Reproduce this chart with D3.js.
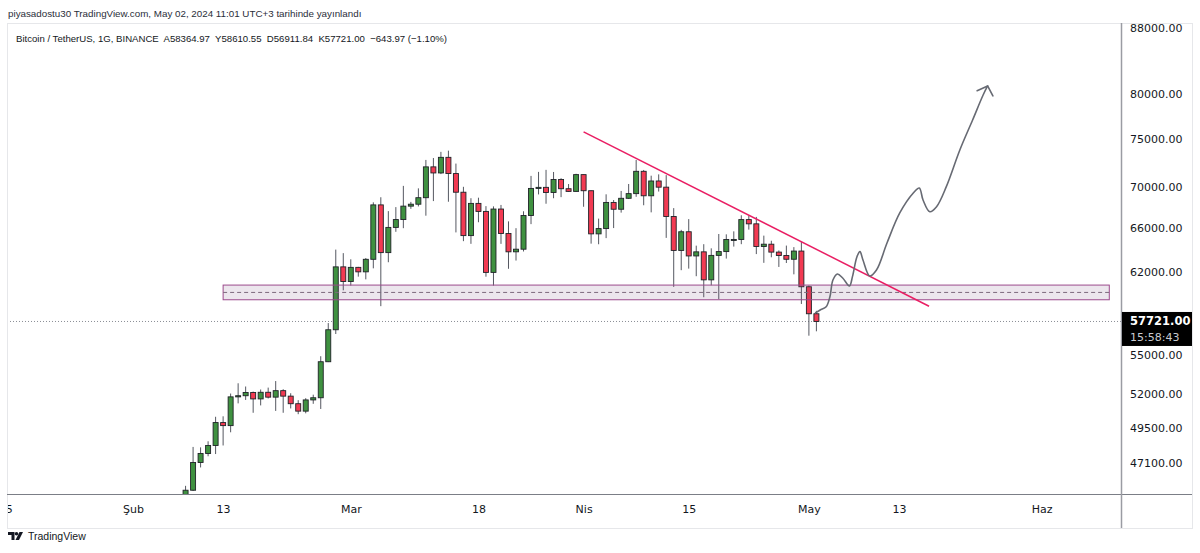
<!DOCTYPE html>
<html>
<head>
<meta charset="utf-8">
<script src="https://cdn.jsdelivr.net/npm/d3@7"></script>
<style>
  body { margin: 0; background: #fff; }
  svg { display: block; }
</style>
</head>
<body>
<div id="chart"></div>
<script>
// daily candles, BTC/USDT, from Feb 8 2024
const firstDay = "2024-02-08";
const opens = [44339.8, 45293.3, 47132.77, 47751.09, 48299.99, 49917.27, 49699.59, 51795.17, 51880.0, 52124.11,
  51642.64, 52137.67, 51774.73, 52258.82, 51849.38, 51288.42, 50744.15, 51568.22, 51728.85, 54476.47,
  57037.34, 62432.1, 61130.98, 62387.9, 61987.28, 63113.97, 68245.71, 63724.01, 66074.04, 66823.17,
  68124.19, 68313.27, 68955.88, 72078.1, 71452.01, 73072.41, 71388.94, 69499.85, 65300.63, 68393.48,
  67609.99, 61937.4, 67840.51, 65501.27, 63796.64, 64037.56, 67211.23, 69880.01, 69988.0, 69469.99,
  70780.6, 69850.54, 69582.18, 71280.01, 69649.8, 65463.99, 65963.28, 68487.79, 67820.62, 68896.0,
  69360.39, 71620.0, 69146.0, 70631.08, 70006.23, 67116.52, 63924.51, 65661.84, 63419.99, 63793.39,
  61277.37, 63470.08, 63818.01, 64940.59, 64941.15, 66819.32, 66414.0, 64289.59, 64498.34, 63770.01,
  63461.98, 63118.62, 63866.0, 60672.0, 58364.97];
const highs = [45579.2, 48200.0, 48170.0, 48592.66, 50334.82, 50368.61, 52043.71, 52816.62, 52572.08, 52191.91,
  52345.0, 52488.77, 52985.0, 52366.8, 52065.78, 51548.54, 51698.0, 51958.55, 54910.0, 57588.15,
  64000.0, 63676.35, 63114.23, 62433.19, 63230.0, 68499.0, 69000.0, 67637.93, 68029.92, 70136.0,
  68541.1, 69887.61, 72800.0, 73000.0, 73650.25, 73777.0, 72419.71, 70043.0, 68904.4, 68956.0,
  68124.19, 68100.0, 68240.47, 66649.62, 65999.95, 67622.76, 71150.0, 71561.01, 71769.54, 71552.06,
  70916.16, 70321.1, 71366.0, 71288.23, 69674.23, 66914.0, 69291.26, 68725.23, 69629.86, 70326.29,
  72797.99, 71758.0, 71172.08, 71305.89, 71227.46, 67931.43, 65840.0, 66867.07, 64365.0, 64499.0,
  64117.09, 65450.0, 65419.0, 65700.0, 67233.96, 67199.24, 67075.37, 65297.94, 64820.01, 63923.41,
  64370.0, 64228.35, 64734.0, 60780.5, 58610.55];
const lows = [44332.1, 45242.12, 46800.0, 47557.16, 47710.01, 48300.95, 49225.01, 51314.0, 51566.0, 50625.0,
  51163.28, 51677.0, 50760.37, 50625.0, 50940.78, 50521.0, 50585.0, 51279.8, 50901.44, 54450.13,
  56690.34, 60364.7, 60777.0, 61561.12, 61321.49, 62300.0, 59005.0, 62848.67, 65655.53, 66000.0,
  67861.1, 68094.75, 67194.88, 68620.82, 71333.31, 68555.0, 65600.0, 64780.0, 64533.0, 66566.64,
  61555.0, 60775.0, 64529.01, 62260.0, 63000.0, 63825.85, 66385.06, 69280.0, 68359.18, 68903.62,
  69009.0, 69540.0, 69562.99, 68062.86, 64550.0, 64493.07, 65064.52, 66011.48, 67491.72, 68824.0,
  69043.24, 68210.0, 67518.0, 69567.21, 65086.86, 60660.57, 62134.0, 62274.4, 61600.0, 59768.86,
  60803.35, 59600.01, 63180.0, 64277.72, 64500.0, 65864.0, 63589.0, 62794.0, 63297.48, 62424.71,
  62781.0, 61765.53, 59191.6, 56552.82, 56911.84];
const closes = [45293.3, 47132.77, 47751.09, 48299.99, 49917.27, 49699.59, 51795.17, 51880.0, 52124.11, 51642.64,
  52137.67, 51774.73, 52258.82, 51849.38, 51288.42, 50744.15, 51568.22, 51728.85, 54476.47, 57037.34,
  62432.1, 61130.98, 62387.9, 61987.28, 63113.97, 68245.71, 63724.01, 66074.04, 66823.17, 68124.19,
  68313.27, 68955.88, 72078.1, 71452.01, 73072.41, 71388.94, 69499.85, 65300.63, 68393.48, 67609.99,
  61937.4, 67840.51, 65501.27, 63796.64, 64037.56, 67211.23, 69880.01, 69988.0, 69469.99, 70780.6,
  69850.54, 69582.18, 71280.01, 69649.8, 65463.99, 65963.28, 68487.79, 67820.62, 68896.0, 69360.39,
  71620.0, 69146.0, 70631.08, 70006.23, 67116.52, 63924.51, 65661.84, 63419.99, 63793.39, 61277.37,
  63470.08, 63818.01, 64940.59, 64941.15, 66819.32, 66414.0, 64289.59, 64498.34, 63770.01, 63461.98,
  63118.62, 63866.0, 60672.0, 58364.97, 57721.0];

const priceTicks = [88000, 80000, 75000, 70000, 66000, 62000, 55000, 52000, 49500, 47100];
const timeTickDates = ["2024-01-15", "2024-02-01", "2024-02-13", "2024-03-01", "2024-03-18",
  "2024-04-01", "2024-04-15", "2024-05-01", "2024-05-13", "2024-06-01"];
const timeTickLabels = ["15", "Şub", "13", "Mar", "18", "Nis", "15", "May", "13", "Haz"];

// drawings
const zoneTop = 60820, zoneBottom = 59550, zoneMid = 60180;
const zoneDates = ["2024-02-13", "2024-06-10"];
const trendDates = ["2024-04-01", "2024-05-17"];
const trendPrices = [75800, 59000];
// hand drawn projection: days after Feb 1, price
const projDays = [90.9, 91.5, 92.3, 92.8, 93.2, 93.8, 94.5, 95.4, 95.8, 96.4, 96.8, 97.2, 98.1, 99.0,
  100.4, 102.1, 103.9, 104.7, 105.2, 106.1, 107.0, 108.3, 110.1, 111.8, 113.2, 113.8];
const projPrices = [58450, 58680, 58960, 59810, 61260, 61800, 61440, 60740, 61560, 63350, 63810, 63050, 61620, 62150,
  64610, 67460, 69420, 69920, 68730, 67580, 68070, 70060, 73850, 77100, 79920, 80960];
const headDays = [112.4, 113.8, 114.5];
const headPrices = [80410, 80960, 79810];

const lastPrice = 57721.0;
const countdown = "15:58:43";
const title1 = "piyasadostu30 TradingView.com, May 02, 2024 11:01 UTC+3 tarihinde yayınlandı";
const title2 = "Bitcoin / TetherUS, 1G, BINANCE  A58364.97  Y58610.55  D56911.84  K57721.00  −643.97 (−1.10%)";

const width = 1200, height = 553;
const frame = { left: 7, top: 23, right: 1192, bottom: 528 };
const paneRight = 1121, paneBottom = 494;

const svg = d3.select("#chart").append("svg")
  .attr("width", width)
  .attr("height", height)
  .style("font-family", "'DejaVu Sans', sans-serif");

const x = d3.scaleUtc()
  .domain([new Date("2024-02-01"), new Date("2024-06-01")])
  .range([133, 1041.7]);
const y = d3.scaleLog()
  .domain([47100, 88000])
  .range([463, 27.96]);

const feb1 = new Date("2024-02-01");
const dayToDate = d => new Date(+feb1 + d * 864e5);

const start = new Date(firstDay);
const candles = opens.map((o, i) => ({
  date: d3.utcDay.offset(start, i), o, h: highs[i], l: lows[i], c: closes[i]
}));

// frame
svg.append("rect")
  .attr("x", frame.left + 0.5).attr("y", frame.top + 0.5)
  .attr("width", frame.right - frame.left).attr("height", frame.bottom - frame.top)
  .attr("fill", "none").attr("stroke", "#e6e7ea");

svg.append("defs").append("clipPath").attr("id", "pane")
  .append("rect")
  .attr("x", frame.left + 1).attr("y", frame.top + 1)
  .attr("width", paneRight - frame.left - 1).attr("height", paneBottom - frame.top - 1);

const pane = svg.append("g").attr("clip-path", "url(#pane)");

// last price dotted line
pane.append("line")
  .attr("x1", frame.left).attr("x2", paneRight)
  .attr("y1", y(lastPrice)).attr("y2", y(lastPrice))
  .attr("stroke", "#8a8d96").attr("stroke-dasharray", "1,2");

// candles
const bw = 5;
const cg = pane.append("g");
cg.selectAll("line.wick").data(candles).join("line")
  .attr("class", "wick")
  .attr("x1", d => x(d.date)).attr("x2", d => x(d.date))
  .attr("y1", d => y(d.h)).attr("y2", d => y(d.l))
  .attr("stroke", "#555861").attr("stroke-width", 1);
cg.selectAll("rect.body").data(candles).join("rect")
  .attr("class", "body")
  .attr("x", d => x(d.date) - bw / 2)
  .attr("y", d => y(Math.max(d.o, d.c)))
  .attr("width", bw)
  .attr("height", d => Math.max(1, y(Math.min(d.o, d.c)) - y(Math.max(d.o, d.c))))
  .attr("fill", d => d.c >= d.o ? "#3f9140" : "#f23a52")
  .attr("stroke", "#1f2227").attr("stroke-width", 0.9);

// support zone
const zx0 = x(new Date(zoneDates[0])), zx1 = x(new Date(zoneDates[1]));
pane.append("rect")
  .attr("x", zx0).attr("y", y(zoneTop))
  .attr("width", zx1 - zx0).attr("height", y(zoneBottom) - y(zoneTop))
  .attr("fill", "rgba(120,80,130,0.14)")
  .attr("stroke", "#9c4a8c").attr("stroke-width", 1);
pane.append("line")
  .attr("x1", zx0).attr("x2", zx1)
  .attr("y1", y(zoneMid)).attr("y2", y(zoneMid))
  .attr("stroke", "#7d6a7d").attr("stroke-dasharray", "4,3");

// trend line
pane.append("line")
  .attr("x1", x(new Date(trendDates[0]))).attr("y1", y(trendPrices[0]))
  .attr("x2", x(new Date(trendDates[1]))).attr("y2", y(trendPrices[1]))
  .attr("stroke", "#e91e63").attr("stroke-width", 1.5);

// projection arrow
const proj = projDays.map((d, i) => [dayToDate(d), projPrices[i]]);
const line = d3.line().x(d => x(d[0])).y(d => y(d[1])).curve(d3.curveCatmullRom);
pane.append("path")
  .attr("d", line(proj))
  .attr("fill", "none").attr("stroke", "#676a73").attr("stroke-width", 1.6)
  .attr("stroke-linecap", "round").attr("stroke-linejoin", "round");
const head = headDays.map((d, i) => [dayToDate(d), headPrices[i]]);
pane.append("path")
  .attr("d", d3.line().x(d => x(d[0])).y(d => y(d[1]))(head))
  .attr("fill", "none").attr("stroke", "#676a73").attr("stroke-width", 1.6)
  .attr("stroke-linecap", "round").attr("stroke-linejoin", "round");

// axes separators
svg.append("line")
  .attr("x1", frame.left).attr("x2", frame.right)
  .attr("y1", paneBottom + 0.5).attr("y2", paneBottom + 0.5)
  .attr("stroke", "#7b7e86");
svg.append("line")
  .attr("x1", paneRight + 0.5).attr("x2", paneRight + 0.5)
  .attr("y1", frame.top).attr("y2", frame.bottom)
  .attr("stroke", "#9a9ca3").attr("stroke-width", 1.5);

// price axis
const yAxis = svg.append("g")
  .attr("transform", `translate(${paneRight},0)`)
  .call(d3.axisRight(y).tickValues(priceTicks).tickFormat(d3.format(".2f")).tickSize(0).tickPadding(9));
yAxis.select(".domain").remove();
yAxis.selectAll("text").attr("fill", "#131722").style("font-size", "11px")
  .style("font-family", "'DejaVu Sans', sans-serif");

// last price label
const ly = y(lastPrice);
svg.append("rect")
  .attr("x", paneRight + 1).attr("y", ly - 9.5)
  .attr("width", frame.right - paneRight - 1).attr("height", 34)
  .attr("fill", "#000");
svg.append("text")
  .attr("x", paneRight + 9).attr("y", ly).attr("dy", "0.35em")
  .attr("fill", "#fff").style("font-size", "11.5px").style("font-weight", "bold")
  .text(d3.format(".2f")(lastPrice));
svg.append("text")
  .attr("x", paneRight + 9).attr("y", ly + 16).attr("dy", "0.35em")
  .attr("fill", "#c9cbd1").style("font-size", "11px")
  .text(countdown);

// time axis
svg.append("defs").append("clipPath").attr("id", "timeaxis")
  .append("rect")
  .attr("x", frame.left + 1).attr("y", paneBottom + 1)
  .attr("width", paneRight - frame.left - 1).attr("height", frame.bottom - paneBottom - 1);
const xAxis = svg.append("g")
  .attr("clip-path", "url(#timeaxis)")
  .append("g")
  .attr("transform", `translate(0,${paneBottom})`)
  .call(d3.axisBottom(x)
    .tickValues(timeTickDates.map(d => new Date(d)))
    .tickFormat((d, i) => timeTickLabels[i])
    .tickSize(0));
xAxis.select(".domain").remove();
xAxis.selectAll("text").attr("y", 19).attr("dy", 0)
  .attr("fill", "#131722").style("font-size", "11px")
  .style("font-family", "'DejaVu Sans', sans-serif");

// header
svg.append("text")
  .attr("x", 8).attr("y", 17)
  .attr("fill", "#2a2e39")
  .style("font-family", "'Liberation Sans', sans-serif").style("font-size", "9.8px")
  .text(title1);
svg.append("text")
  .attr("x", 16).attr("y", 41.5)
  .attr("fill", "#131722")
  .style("font-family", "'Liberation Sans', sans-serif").style("font-size", "9.6px")
  .attr("xml:space", "preserve")
  .style("white-space", "pre")
  .text(title2);

// tradingview logo
const logo = svg.append("g").attr("fill", "#131722");
logo.append("path").attr("d", "M8,532 h6.5 v8 h-3 v-5 h-3.5 z");
logo.append("circle").attr("cx", 16.5).attr("cy", 533.8).attr("r", 1.8);
logo.append("path").attr("d", "M19.5,532 h3.5 l-4,8 h-3.5 z");
svg.append("text")
  .attr("x", 28).attr("y", 539.5)
  .attr("fill", "#131722")
  .style("font-family", "'Liberation Sans', sans-serif").style("font-size", "10.5px")
  .text("TradingView");
</script>
</body>
</html>
